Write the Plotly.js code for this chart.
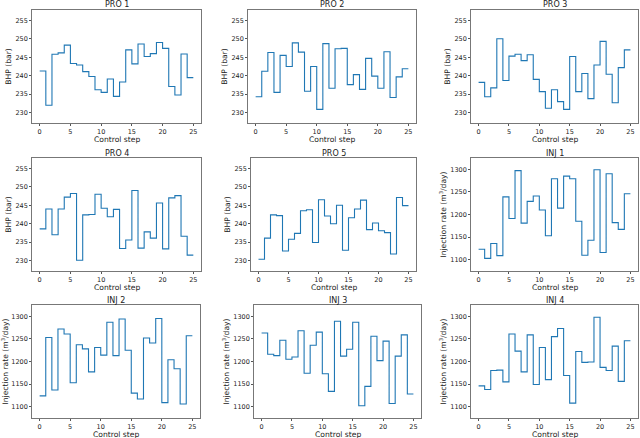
<!DOCTYPE html>
<html><head><meta charset="utf-8">
<script src="https://cdn.plot.ly/plotly-3.0.1.min.js"></script>
<style>html,body{margin:0;padding:0;background:#fff;}#chart{width:640px;height:438px;}</style>
</head><body><div id="chart"></div>
<script>
// Control values per step (25 steps, step k spans k..k+1)
const PRO1 = [241.3,232.0,245.8,246.2,248.3,243.3,242.9,241.1,239.8,236.2,235.5,239.1,234.4,238.3,247.0,243.2,248.6,245.2,246.0,249.0,247.4,237.1,234.8,245.9,239.5];
const PRO2 = [234.3,241.2,246.3,235.5,245.5,242.5,248.9,246.4,235.8,242.5,230.9,248.7,236.6,247.3,247.4,237.6,240.3,236.3,244.7,239.9,236.6,246.5,234.1,239.7,241.9];
const PRO3 = [238.2,234.3,236.7,250.0,238.7,245.3,245.8,244.1,245.7,239.0,235.7,231.2,236.2,233.0,230.9,245.2,235.7,240.6,233.8,242.9,249.3,240.4,232.7,242.2,247.0];
const PRO4 = [238.6,244.0,237.0,244.0,247.2,248.2,230.1,242.4,242.5,248.0,244.2,241.9,243.9,233.3,235.6,249.0,233.4,237.8,236.1,245.6,233.2,247.0,247.6,236.6,231.5];
const PRO5 = [230.4,236.1,242.4,242.2,232.6,235.8,237.4,243.5,243.8,234.9,246.5,242.1,240.0,245.0,232.8,241.6,244.0,246.4,238.4,240.2,238.1,237.6,231.8,247.1,244.9];
const INJ1 = [1123,1103,1136,1109,1239,1191,1297,1181,1229,1241,1210,1153,1279,1214,1285,1279,1185,1110,1143,1299,1116,1290,1182,1167,1246];
const INJ2 = [1124,1253,1137,1272,1261,1153,1237,1228,1177,1231,1214,1287,1213,1294,1225,1130,1117,1252,1241,1295,1109,1204,1184,1106,1257];
const INJ3 = [1263,1216,1213,1247,1205,1210,1268,1174,1236,1265,1173,1134,1289,1212,1227,1287,1102,1145,1256,1202,1245,1107,1212,1259,1128];
const INJ4 = [1146,1138,1180,1181,1155,1261,1223,1177,1259,1149,1231,1160,1255,1273,1169,1108,1222,1198,1199,1298,1187,1180,1234,1156,1246];

const titles = ["PRO 1","PRO 2","PRO 3","PRO 4","PRO 5","INJ 1","INJ 2","INJ 3","INJ 4"];
const series = [PRO1,PRO2,PRO3,PRO4,PRO5,INJ1,INJ2,INJ3,INJ4];
const xTickVals = [0,5,10,15,20,25];
const bhpTicks = [230,235,240,245,250,255];
const injTicks = [1100,1150,1200,1250,1300];
const xLabel = "Control step";

const W = 640, H = 438;
// pixel boxes [left, right, top, bottom]
const boxes = [
  [32,201,10,123],[248,416,10,123],[471,638,10,123],
  [32,201,158,271],[251,416,158,271],[471,638,158,271],
  [32,200,305,418],[254,421,305,418],[471,638,305,418]
];

const FONT = "DejaVu Sans, sans-serif";
const traces = [], layout = {
  width: W, height: H, margin: {l:0,r:0,t:0,b:0},
  paper_bgcolor: "#fff", plot_bgcolor: "#fff", showlegend: false,
  font: {family: FONT, size: 7, color: "#222"}, annotations: []
};

series.forEach((vals, i) => {
  const n = i + 1;
  const sfx = n === 1 ? "" : String(n);
  const xs = vals.map((_, k) => k).concat([vals.length]);
  const ys = vals.concat([vals[vals.length - 1]]);
  traces.push({x: xs, y: ys, type: "scatter", mode: "lines",
    line: {shape: "hv", color: "#1f77b4", width: 1.1},
    xaxis: "x" + sfx, yaxis: "y" + sfx, hoverinfo: "skip"});
  const b = boxes[i];
  const isInj = i >= 5;
  const axCommon = {showline: true, mirror: true, linecolor: "#555", linewidth: 0.8,
    ticks: "outside", ticklen: 2, tickcolor: "#555", showgrid: false, zeroline: false,
    tickfont: {family: FONT, size: 6.5, color: "#222"}};
  layout["xaxis" + sfx] = Object.assign({}, axCommon, {
    domain: [b[0]/W, b[1]/W], anchor: "y" + sfx,
    range: [-1.25, 26.25], tickvals: xTickVals
  });
  layout["yaxis" + sfx] = Object.assign({}, axCommon, {
    domain: [1 - b[3]/H, 1 - b[2]/H], anchor: "x" + sfx,
    range: isInj ? [1075, 1325] : [227.2, 257.8],
    tickvals: isInj ? injTicks : bhpTicks,
    title: {text: isInj ? "Injection rate (m<sup>3</sup>/day)" : "BHP (bar)",
      font: {family: FONT, size: 7.6, color: "#222"}, standoff: 2}
  });
  layout.annotations.push({text: titles[i], showarrow: false,
    xref: "paper", yref: "paper", x: (b[0]+b[1])/2/W, y: 1 - (b[2]-5)/H,
    xanchor: "center", yanchor: "middle", borderpad: 0,
    font: {family: FONT, size: 8, color: "#222"}});
  layout.annotations.push({text: xLabel, showarrow: false,
    xref: "paper", yref: "paper", x: (b[0]+b[1])/2/W, y: 1 - (b[3]+16)/H,
    xanchor: "center", yanchor: "middle", borderpad: 0,
    font: {family: FONT, size: 7.6, color: "#222"}});
});

Plotly.newPlot("chart", traces, layout, {staticPlot: true, displayModeBar: false});
</script></body></html>
